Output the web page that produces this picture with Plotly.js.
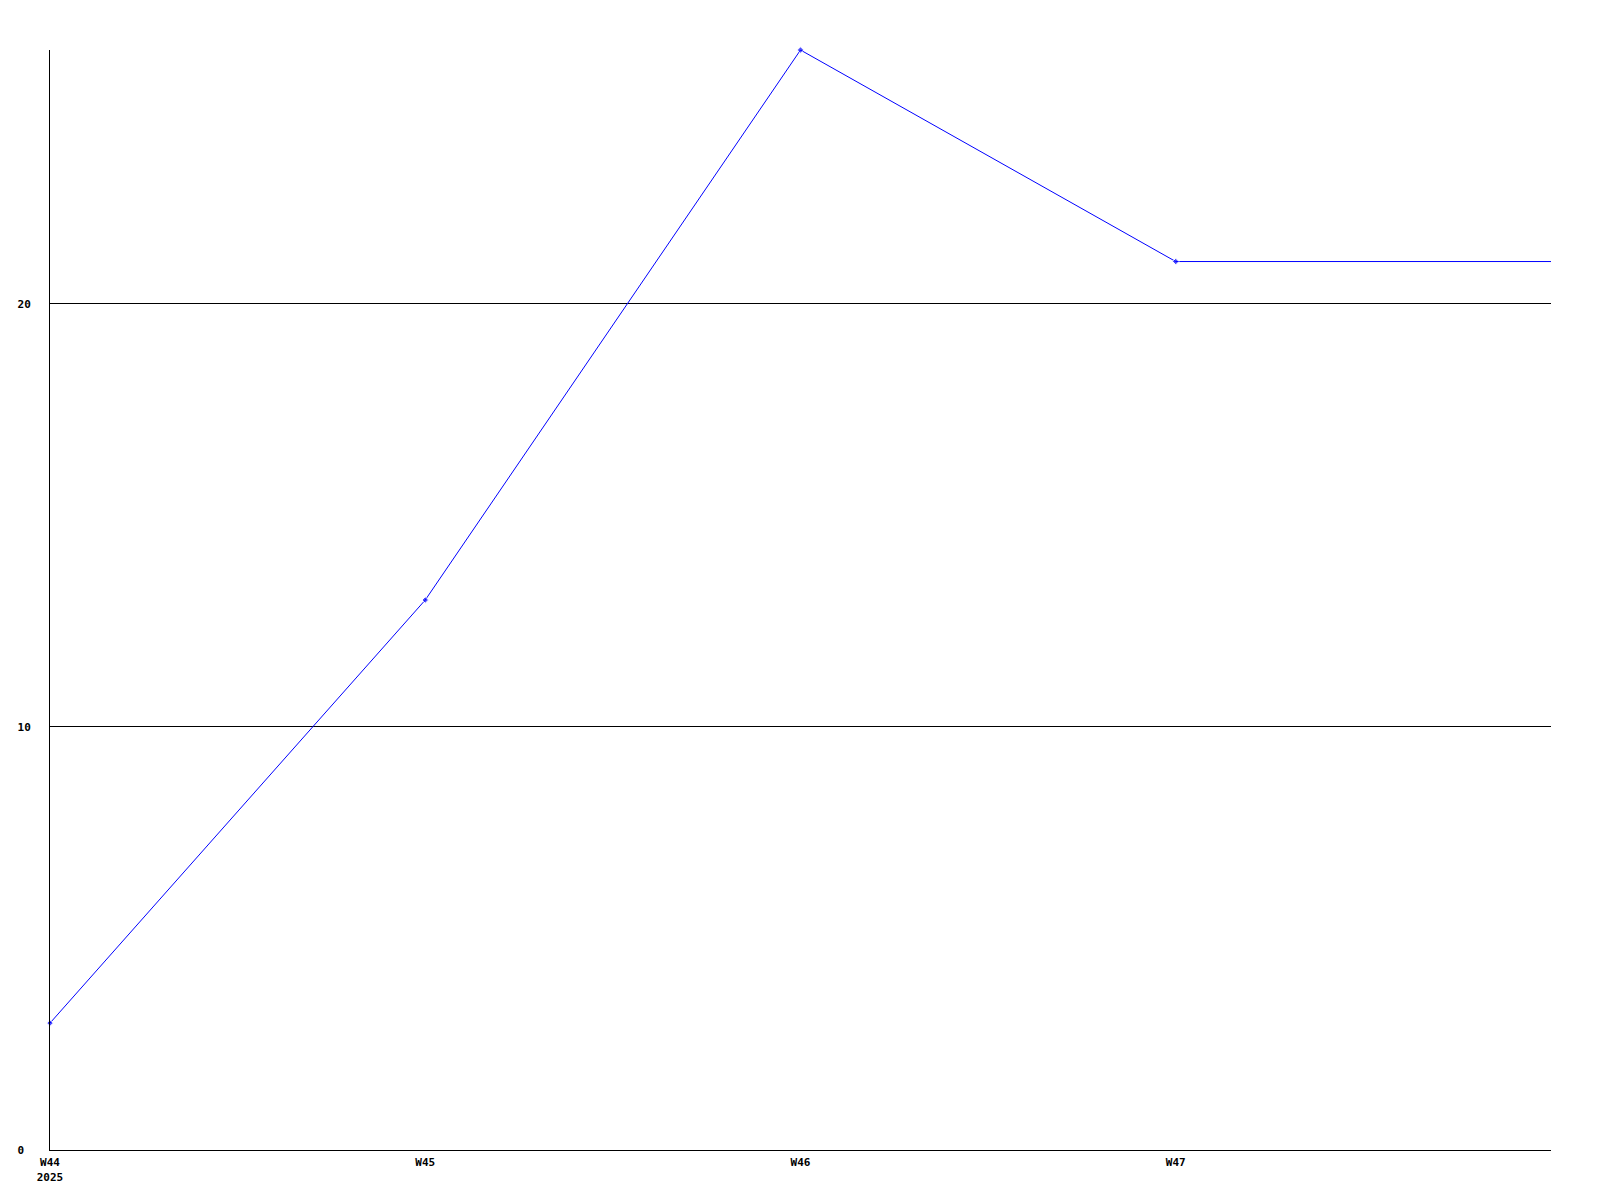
<!DOCTYPE html>
<html>
<head>
<meta charset="utf-8">
<script src="https://cdn.plot.ly/plotly-3.0.1.min.js"></script>
<style>html,body{margin:0;padding:0;background:#fff;}#chart{width:1600px;height:1200px;}</style>
</head>
<body>
<div id="chart"></div>
<script>
const weeks = ["W44", "W45", "W46", "W47", "W48"];
const weekLabels = ["W44<br>2025", "W45", "W46", "W47"];
const values = [3, 13, 26, 21, 21];
const yTicks = [0, 10, 20];
const yTickText = ["0\u00a0", "10", "20"];

const xs = weeks.map((w, i) => i);
// markers only on the labelled weeks; the final point just carries the line to the edge
const markerSizes = weeks.map((w, i) => (i < weekLabels.length ? 5 : 0));
const font = {family: "DejaVu Sans Mono, monospace", size: 11, color: "#000", weight: "bold"};

Plotly.newPlot("chart", [{
  x: xs,
  y: values,
  type: "scatter",
  mode: "lines+markers",
  line: {color: "#0000ff", width: 1},
  marker: {color: "#0000ff", size: markerSizes, symbol: "diamond"},
  cliponaxis: false,
  hoverinfo: "none"
}], {
  width: 1600,
  height: 1200,
  paper_bgcolor: "#fff",
  plot_bgcolor: "#fff",
  showlegend: false,
  margin: {l: 50, r: 49, t: 50, b: 50},
  font: font,
  xaxis: {
    range: [0, 4],
    tickvals: weekLabels.map((w, i) => i),
    ticktext: weekLabels,
    showgrid: false,
    zeroline: false,
    showline: true,
    linecolor: "#000",
    linewidth: 1,
    ticks: "",
    ticklabelstandoff: 2,
    tickfont: font
  },
  yaxis: {
    range: [0, 26],
    tickvals: yTicks,
    ticktext: yTickText,
    showgrid: true,
    gridcolor: "#000",
    gridwidth: 1,
    zeroline: false,
    showline: true,
    linecolor: "#000",
    linewidth: 1,
    ticks: "",
    ticklabelstandoff: 16,
    tickfont: font
  }
}, {displayModeBar: false, staticPlot: true});
</script>
</body>
</html>
